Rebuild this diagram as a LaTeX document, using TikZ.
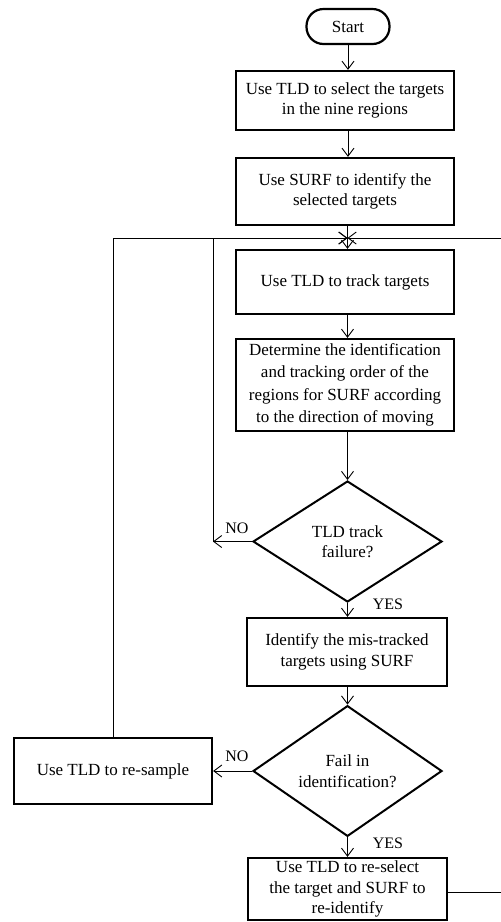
\documentclass[tikz,border=0pt]{standalone}
\usepackage{fontspec}
\setmainfont{Liberation Serif}
\usetikzlibrary{arrows.meta,shapes.geometric}
\begin{document}
\begin{tikzpicture}[x=1pt,y=-1pt,
  every node/.style={font=\fontsize{17}{20.5}\selectfont},
  box/.style={draw,line width=2.2pt,align=center,inner sep=0pt},
  dec/.style={draw,diamond,line width=2pt,align=center,inner sep=0pt,minimum width=189pt,minimum height=121pt},
  lbl/.style={inner sep=0pt,font=\fontsize{16}{18}\selectfont},
  arr/.style={line width=0.9pt,-{Straight Barb[length=8pt,width=12pt,line width=0.9pt]}},
  ln/.style={line width=0.9pt}]
\useasboundingbox (0,0) rectangle (501,922);
\clip (0,0) rectangle (501,922);
\fill[white] (0,0) rectangle (501,922);
\node[box,rounded corners=17pt,minimum width=83pt,minimum height=35pt] (start) at (348,26.5) {Start};
\node[box,minimum width=218pt,minimum height=59pt] (b1) at (345,100.5) {Use TLD to select the targets\\in the nine regions};
\node[box,minimum width=218pt,minimum height=67pt] (b2) at (345,191.5) {Use SURF to identify the\\selected targets};
\node[box,minimum width=218pt,minimum height=64pt] (b3) at (345,282) {Use TLD to track targets};
\node[box,minimum width=218pt,minimum height=92pt,font=\fontsize{17}{22.5}\selectfont] (b4) at (345,385) {Determine the identification\\and tracking order of the\\regions for SURF according\\to the direction of moving};
\node[dec] (d1) at (347.5,541.5) {TLD track\\failure?};
\node[box,minimum width=200pt,minimum height=68pt] (b5) at (347,652) {Identify the mis-tracked\\targets using SURF};
\node[dec] (d2) at (347.5,771) {Fail in\\identification?};
\node[box,minimum width=198pt,minimum height=66pt] (rs) at (113,771) {Use TLD to re-sample};
\node[box,minimum width=199pt,minimum height=62pt] (b6) at (347.5,889) {Use TLD to re-select\\the target and SURF to\\re-identify};
\node[lbl] (no1) at (237,528) {NO};
\node[lbl] (yes1) at (388,604) {YES};
\node[lbl] (no2) at (237,756) {NO};
\node[lbl] (yes2) at (388,843) {YES};
\coordinate (m) at (347.5,238);
\coordinate (c1) at (213,541.5);
\coordinate (c3) at (520,892);
\draw[arr] (start) -- (start |- b1.north);
\draw[arr] (start |- b1.south) -- (start |- b2.north);
\draw[arr] (b2.south -| m) -- (b3.north -| m);
\draw[arr] (b3.south -| m) -- (b4.north -| m);
\draw[arr] (b4.south -| m) -- (d1.north);
\draw[arr] (d1.south) -- (b5.north -| d1.south);
\draw[arr] (b5.south -| d2.north) -- (d2.north);
\draw[arr] (d2.south) -- (b6.north -| d2.south);
\draw[arr] (d1.west) -- (c1);
\draw[arr] (c1) |- (m);
\draw[arr] (d2.west) -- (rs.east);
\draw[arr] (rs.north) |- (m);
\draw[arr] (b6.east |- c3) -- (c3) |- (m);
\end{tikzpicture}
\end{document}
